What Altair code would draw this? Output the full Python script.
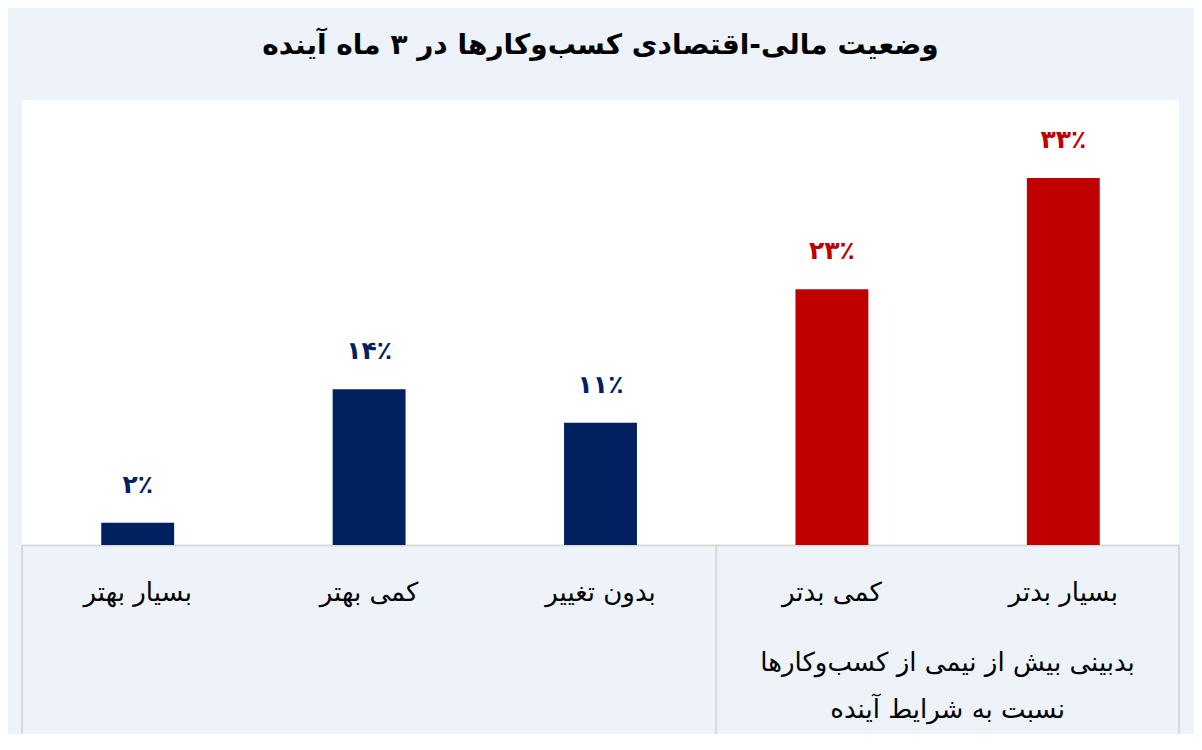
import altair as alt
import pandas as pd

categories = ["بسیار بهتر", "کمی بهتر", "بدون تغییر", "کمی بدتر", "بسیار بدتر"]
values = [2, 14, 11, 23, 33]
value_labels = ["۲٪", "۱۴٪", "۱۱٪", "۲۳٪", "۳۳٪"]
groups = ["مثبت", "مثبت", "مثبت", "منفی", "منفی"]

sep_start = ["بسیار بهتر", "کمی بدتر"]   # خطوط جداکننده در ابتدای دسته
sep_end = ["بسیار بدتر"]                 # خط جداکننده در انتهای دسته

note_text = ["بدبینی بیش از نیمی از کسب‌وکارها", "نسبت به شرایط آینده"]
note_at = ["بسیار بدتر"]

title_text = "وضعیت مالی-اقتصادی کسب‌وکارها در ۳ ماه آینده"

FONT = "DejaVu Sans"

df = pd.DataFrame({"category": categories, "value": values,
                   "label": value_labels, "group": groups})

x_scale = alt.Scale(domain=categories, paddingInner=0, paddingOuter=0)
y_scale = alt.Scale(domain=[0, 40])
color_scale = alt.Scale(domain=["مثبت", "منفی"], range=["#002060", "#C00000"])

base = alt.Chart(df).encode(
    x=alt.X("category:N", scale=x_scale, sort=categories,
            axis=alt.Axis(title=None, labelAngle=0, ticks=False,
                          domainColor="#D9D9D9", domainWidth=2,
                          labelFontSize=26, labelPadding=34,
                          labelColor="black", labelFont=FONT)),
    y=alt.Y("value:Q", scale=y_scale, axis=None),
)

bars = base.mark_bar(width=alt.RelativeBandSize(band=0.315)).encode(
    color=alt.Color("group:N", scale=color_scale, legend=None)
)

labels = base.mark_text(dy=-38, baseline="middle", fontSize=25,
                        fontWeight="bold", font=FONT).encode(
    text="label:N",
    color=alt.Color("group:N", scale=color_scale, legend=None),
)

rule_start = alt.Chart(pd.DataFrame({"category": sep_start})).mark_rule(
    color="#D9D9D9", strokeWidth=2
).encode(
    x=alt.X("category:N", scale=x_scale, bandPosition=0),
    y=alt.datum(0, scale=y_scale),
    y2=alt.value(640),
)

rule_end = alt.Chart(pd.DataFrame({"category": sep_end})).mark_rule(
    color="#D9D9D9", strokeWidth=2
).encode(
    x=alt.X("category:N", scale=x_scale, bandPosition=1),
    y=alt.datum(0, scale=y_scale),
    y2=alt.value(640),
)

note = alt.Chart(pd.DataFrame({"category": note_at, "text": [note_text]})).mark_text(
    baseline="top", align="center", fontSize=26, lineHeight=47,
    font=FONT, color="black"
).encode(
    x=alt.X("category:N", scale=x_scale, bandPosition=0),
    y=alt.value(550),
    text="text",
)

chart = alt.layer(bars, labels, rule_start, rule_end, note).properties(
    width=1157, height=445,
    autosize=alt.AutoSizeParams(type="none"),
    padding={"left": 14, "top": 92, "right": 15, "bottom": 189},
    title=alt.TitleParams(title_text, fontSize=28, fontWeight="bold",
                          font=FONT, color="black", anchor="middle", offset=40),
).configure(background="#EEF3FA").configure_view(fill="white", strokeWidth=0)

chart.save("out.html", embed_options={"renderer": "svg", "actions": False})
